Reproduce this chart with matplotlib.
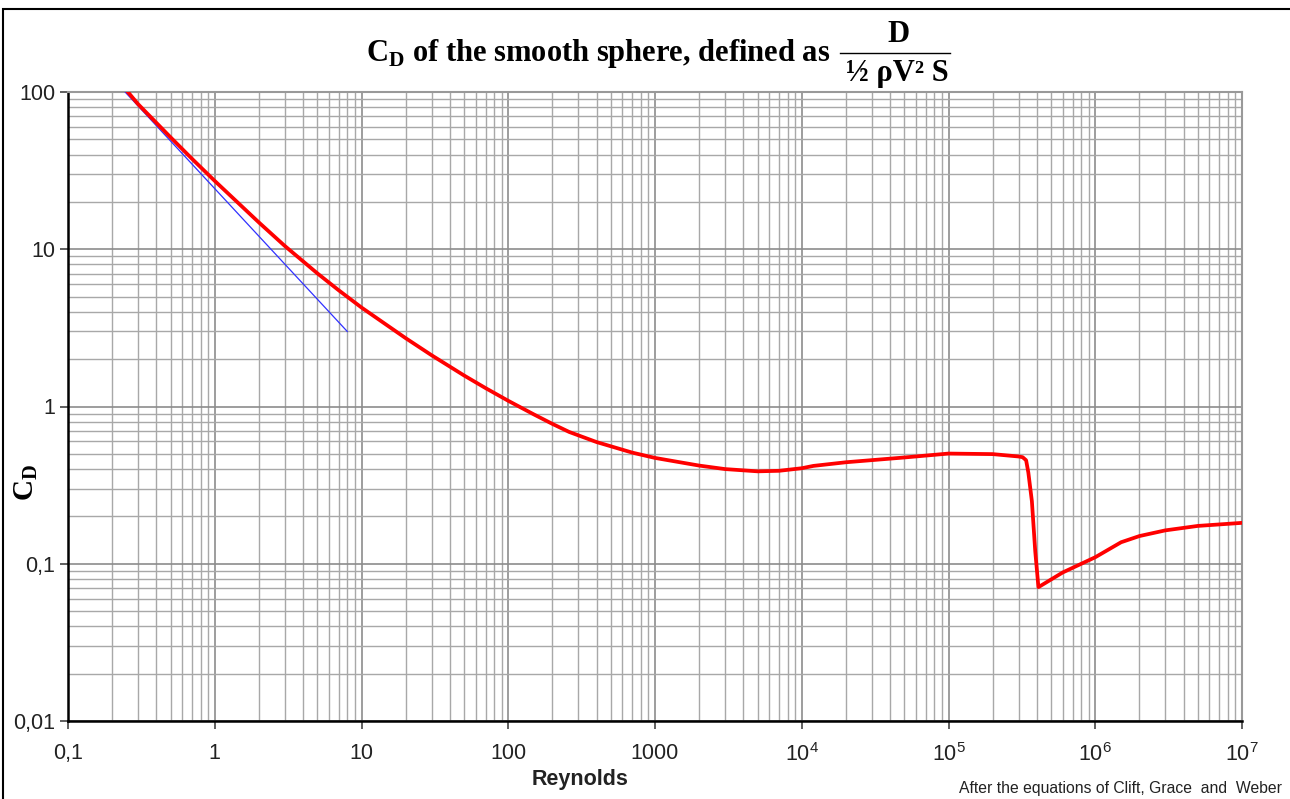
import numpy as np
import matplotlib
matplotlib.use('Agg')
import matplotlib.pyplot as plt
from matplotlib.ticker import FixedLocator, LogLocator, NullFormatter
from matplotlib.patches import Rectangle
from matplotlib.lines import Line2D

# drag curve of the smooth sphere
re_vals = [0.256, 0.3, 0.5, 0.7, 1, 2, 3, 5, 7, 10, 20, 30, 50, 70, 100, 150, 200,
           260, 400, 700, 1000, 1500, 2000, 3000, 5000, 7000, 1e4, 1.2e4, 2e4,
           5e4, 1e5, 2e5, 3e5, 3.2e5, 3.38e5, 3.5e5, 3.7e5, 3.9e5, 4.1e5,
           6e5, 1e6, 1.5e6, 2e6, 3e6, 5e6, 1e7]
cd_vals = [100, 83.8, 51.5, 37.6, 27.2, 14.8, 10.5, 7.03, 5.48, 4.26, 2.72, 2.12,
           1.575, 1.31, 1.087, 0.889, 0.775, 0.689, 0.594, 0.509, 0.471, 0.441,
           0.421, 0.400, 0.387, 0.390, 0.405, 0.419, 0.442, 0.474, 0.502, 0.498,
           0.481, 0.476, 0.455, 0.38, 0.25, 0.12, 0.071, 0.088, 0.11, 0.137,
           0.15, 0.163, 0.174, 0.182]

# Stokes line
stokes_re = [0.245, 8.0]
stokes_cd = [100, 3.0]

xticks = [0.1, 1, 10, 100, 1000, 1e4, 1e5, 1e6, 1e7]
xlabels = ['0,1', '1', '10', '100', '1000', '$10^4$', '$10^5$', '$10^6$', '$10^7$']
yticks = [0.01, 0.1, 1, 10, 100]
ylabels = ['0,01', '0,1', '1', '10', '100']

plt.rcParams['font.family'] = ['Liberation Sans', 'DejaVu Sans']
plt.rcParams['mathtext.fontset'] = 'custom'
plt.rcParams['mathtext.rm'] = 'Liberation Sans'

fig = plt.figure(figsize=(12.9, 7.99), dpi=100)
ax = fig.add_axes([68/1290, 1-721/799, (1242-68)/1290, (721-92)/799])

ax.plot(stokes_re, stokes_cd, color='#3030ff', lw=0.9, zorder=3)
ax.plot(re_vals, cd_vals, color='#ff0000', lw=2.7, zorder=4, solid_joinstyle='round')

ax.set_xscale('log')
ax.set_yscale('log')
ax.set_xlim(0.1, 1e7)
ax.set_ylim(0.01, 100)

ax.xaxis.set_major_locator(FixedLocator(xticks))
ax.set_xticklabels(xlabels)
ax.yaxis.set_major_locator(FixedLocator(yticks))
ax.set_yticklabels(ylabels)
ax.xaxis.set_minor_locator(LogLocator(base=10, subs=np.arange(2, 10), numticks=20))
ax.yaxis.set_minor_locator(LogLocator(base=10, subs=np.arange(2, 10), numticks=20))
ax.xaxis.set_minor_formatter(NullFormatter())
ax.yaxis.set_minor_formatter(NullFormatter())

ax.grid(which='major', color='#8c8c8c', lw=1.2)
ax.grid(which='minor', color='#a8a8a8', lw=1.0)
ax.tick_params(which='minor', length=0)
ax.tick_params(which='major', direction='out', length=6, width=1.2, color='#444444',
               labelsize=15.5, colors='#222222')
ax.tick_params(axis='x', pad=10)
ax.tick_params(axis='y', pad=3)

ax.spines['left'].set_linewidth(1.8)
ax.spines['bottom'].set_linewidth(1.8)
ax.spines['top'].set_color('#999999')
ax.spines['right'].set_color('#999999')
ax.spines['top'].set_linewidth(1.5)
ax.spines['right'].set_linewidth(1.5)

fig.text(580/1290, 1-779/799, 'Reynolds', ha='center', va='center', fontsize=15.5,
         fontweight='bold', color='#222222')
fig.text(26/1290, 1-482/799, r'C$_\mathregular{D}$', rotation=90, ha='center', va='center',
         fontsize=21, fontweight='bold', family='Liberation Serif')

# title
fig.text(830/1290, 1-53/799, r'C$_\mathregular{D}$ of the smooth sphere, defined as',
         ha='right', va='center', fontsize=22, fontweight='bold', family='Liberation Serif')
fig.text(899/1290, 1-34/799, 'D', ha='center', va='center', fontsize=22,
         fontweight='bold', family='Liberation Serif')
fig.text(897/1290, 1-73/799, '½ ρV² S', ha='center', va='center', fontsize=22,
         fontweight='bold', family='Liberation Serif')
fig.add_artist(Line2D([840/1290, 950/1290], [1-53/799, 1-53/799], color='black', lw=1.0,
                      transform=fig.transFigure))

fig.text(1282/1290, 1-789/799, 'After the equations of Clift, Grace  and  Weber',
         ha='right', va='center', fontsize=11.3, color='#222222')

fig.add_artist(Rectangle((3/1290, -0.01), 1.1, 1-9/799+0.01, fill=False, edgecolor='black',
                         lw=1.5, transform=fig.transFigure))

plt.savefig('out.png', dpi=100)
